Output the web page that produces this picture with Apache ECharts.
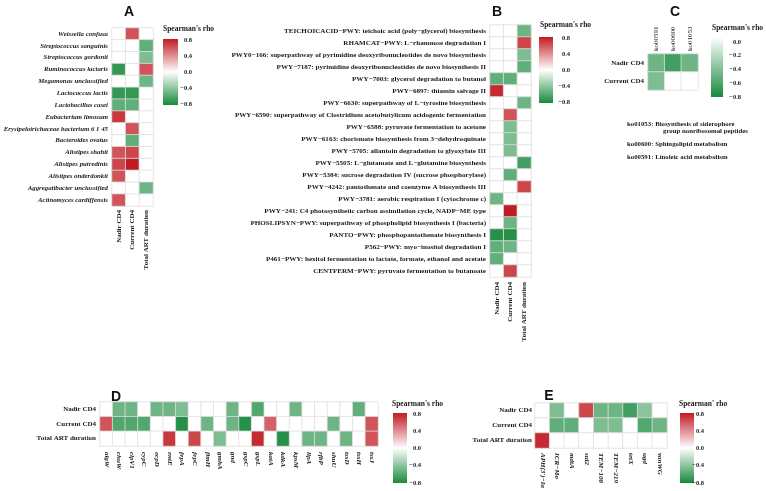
<!DOCTYPE html>
<html>
<head>
<meta charset="utf-8">
<script src="https://cdn.jsdelivr.net/npm/echarts@6/dist/echarts.min.js"></script>
<style>
  html, body { margin: 0; background: #fff; }
  #chart { width: 766px; height: 491px; }
</style>
</head>
<body>
<div id="chart"></div>
<script>
const serif = 'Liberation Serif';
const clinical = ['Nadir CD4', 'Current CD4', 'Total ART duration'];

// A: taxa
const aTaxa = ['Weissella confusa', 'Streptococcus sanguinis', 'Streptococcus gordonii', 'Ruminococcus lactaris',
  'Megamonas unclassified', 'Lactococcus lactis', 'Lactobacillus casei', 'Eubacterium limosum',
  'Erysipelotrichaceae bacterium 6 1 45', 'Bacteroides ovatus', 'Alistipes shahii', 'Alistipes putredinis',
  'Alistipes onderdonkii', 'Aggregatibacter unclassified', 'Actinomyces cardiffensis'];
const aNadir   = [0, 0, 0, -0.7, 0, -0.7, -0.55, 0.7, 0, 0, 0.6, 0.65, 0.6, 0, 0.6];
const aCurrent = [0.6, 0, 0, 0, 0, -0.7, -0.55, 0, 0.6, -0.55, 0.65, 0.8, 0, 0, 0];
const aTotal   = [0, -0.55, -0.45, 0.6, -0.5, 0, 0, 0, 0, 0, 0, 0, 0, -0.5, 0];

// B: pathways
const bPathways = [
  'TEICHOICACID−PWY: teichoic acid (poly−glycerol) biosynthesis',
  'RHAMCAT−PWY: L−rhamnose degradation I',
  'PWY0−166: superpathway of pyrimidine deoxyribonucleotides de novo biosynthesis',
  'PWY−7187: pyrimidine deoxyribonucleotides de novo biosynthesis II',
  'PWY−7003: glycerol degradation to butanol',
  'PWY−6897: thiamin salvage II',
  'PWY−6630: superpathway of L−tyrosine biosynthesis',
  'PWY−6590: superpathway of Clostridium acetobutylicum acidogenic fermentation',
  'PWY−6588: pyruvate fermentation to acetone',
  'PWY−6163: chorismate biosynthesis from 3−dehydroquinate',
  'PWY−5705: allantoin degradation to glyoxylate III',
  'PWY−5505: L−glutamate and L−glutamine biosynthesis',
  'PWY−5384: sucrose degradation IV (sucrose phosphorylase)',
  'PWY−4242: pantothenate and coenzyme A biosynthesis III',
  'PWY−3781: aerobic respiration I (cytochrome c)',
  'PWY−241: C4 photosynthetic carbon assimilation cycle, NADP−ME type',
  'PHOSLIPSYN−PWY: superpathway of phospholipid biosynthesis I (bacteria)',
  'PANTO−PWY: phosphopantothenate biosynthesis I',
  'P562−PWY: myo−inositol degradation I',
  'P461−PWY: hexitol fermentation to lactate, formate, ethanol and acetate',
  'CENTFERM−PWY: pyruvate fermentation to butanoate'];
const bNadir   = [0, 0, 0, 0, -0.55, 0.75, 0, 0, 0, 0, 0, 0, 0, 0, -0.5, 0, 0, -0.75, -0.55, -0.55, 0];
const bCurrent = [0, 0, 0, 0, -0.55, 0, 0, 0.6, -0.45, -0.45, -0.45, 0, -0.55, 0, 0, 0.8, -0.5, -0.75, -0.5, 0, 0.65];
const bTotal   = [-0.5, 0.65, -0.45, -0.55, 0, 0, -0.5, 0, 0, 0, 0, -0.65, 0, 0.65, 0, 0, 0, 0, 0, 0, 0];

// C: KEGG orthologs
const cKos = ['ko00591', 'ko00600', 'ko01053'];
const cRows = ['Nadir CD4', 'Current CD4'];
const cNadir   = [-0.5, -0.65, -0.5];
const cCurrent = [-0.45, 0, 0];
const cNotes = ['ko01053: Biosynthesis of siderophore', 'group nonribosomal peptides',
  'ko00600: Sphingolipid metabolism', 'ko00591: Linoleic acid metabolism'];

// D: virulence genes
const dGenes = ['algW', 'chuW', 'clpV1', 'cypC', 'ecpD', 'entE', 'fepA', 'fepC', 'fimH', 'gmhA', 'gnd',
  'gspC', 'gspL', 'katA', 'kdkA', 'kpsM', 'lipA', 'rfbP', 'shuU', 'tssD', 'tssH', 'tssJ'];
const dNadir   = [0, -0.5, -0.5, 0, -0.5, -0.5, -0.45, 0, 0, 0, -0.5, 0, -0.6, 0, 0, -0.5, 0, 0, 0, 0, -0.55, 0];
const dCurrent = [0.6, -0.6, -0.6, -0.6, 0, 0, -0.75, 0, -0.5, 0, -0.5, -0.75, 0, 0.55, 0, 0, 0, 0, -0.5, 0, 0, 0.6];
const dTotal   = [0, 0, 0, 0, 0, 0.7, 0, 0.65, 0, -0.45, 0, 0, 0.75, 0, -0.75, 0, -0.5, -0.5, 0, -0.5, 0, 0.6];

// E: resistance genes
const eGenes = ["APH(3')−Ia", 'ICR−Mo', 'mdtA', 'sul2', 'TEM−108', 'TEM−219', 'tetX', 'ugd', 'vanWG'];
const eNadir   = [0, -0.45, 0, 0.65, -0.5, -0.5, -0.65, -0.4, 0];
const eCurrent = [0, -0.55, -0.55, 0, -0.45, -0.45, 0, -0.6, -0.5];
const eTotal   = [0.75, 0, 0, 0, 0, 0, 0, 0, 0];

const rhoTicks = ['0.8', '0.4', '0.0', '−0.4', '−0.8'];
const negTicks = ['0.0', '−0.2', '−0.4', '−0.6', '−0.8'];

const red = '#c11b23', green = '#17893c';

function cells(byVar, featOnX) {
  const out = [];
  byVar.forEach((vals, v) => vals.forEach((val, f) => out.push(featOnX ? [f, v, val] : [v, f, val])));
  return out;
}

function axis(grid, data, label, extra) {
  return Object.assign({
    type: 'category', gridIndex: grid, data: data,
    axisLine: { show: false }, axisTick: { show: false }, splitLine: { show: false },
    axisLabel: Object.assign({
      interval: 0, fontFamily: serif, fontWeight: 'bold', fontSize: 7, color: '#1a1a1a', margin: 4
    }, label)
  }, extra || {});
}

function heat(idx, data) {
  return {
    type: 'heatmap', xAxisIndex: idx, yAxisIndex: idx, data: data,
    itemStyle: { borderColor: '#dedede', borderWidth: 0.8 },
    emphasis: { disabled: true }
  };
}

const chart = echarts.init(document.getElementById('chart'), null, { renderer: 'canvas' });

const graphics = [];
function txt(x, y, s, style) {
  graphics.push({ type: 'text', x: x, y: y, silent: true,
    style: Object.assign({ text: s, fontFamily: serif, fontWeight: 'bold', fontSize: 7, fill: '#1a1a1a',
      align: 'left', verticalAlign: 'middle' }, style) });
}
function panelTitle(x, y, s) {
  txt(x, y, s, { fontFamily: 'Liberation Sans', fontSize: 14, align: 'center', fill: '#111' });
}
function colorBar(x, y, w, h, stops, ticks, lx, ly0, ly1, title, tx, ty) {
  graphics.push({ type: 'rect', silent: true, shape: { x: x, y: y, width: w, height: h },
    style: { fill: { type: 'linear', x: 0, y: 0, x2: 0, y2: 1, colorStops: stops } } });
  ticks.forEach((t, i) => txt(lx, ly0 + i * (ly1 - ly0) / (ticks.length - 1), t, { align: 'right', fontSize: 6.5 }));
  txt(tx, ty, title, { fontSize: 7.5 });
}

const div = [{ offset: 0, color: red }, { offset: 0.5, color: '#ffffff' }, { offset: 1, color: green }];
const neg = [{ offset: 0, color: '#ffffff' }, { offset: 1, color: green }];

panelTitle(129, 12, 'A');
panelTitle(497, 12, 'B');
panelTitle(675, 12, 'C');
panelTitle(116, 397, 'D');
panelTitle(549, 396, 'E');

colorBar(163, 39, 15, 66, div, rhoTicks, 192, 40, 104, "Spearman's rho", 163, 29);
colorBar(539, 37, 14, 66, div, rhoTicks, 570, 38, 102, "Spearman's rho", 540, 25);
colorBar(711, 37, 12, 60, neg, negTicks, 741, 42, 97, "Spearman's rho", 712, 28);
colorBar(393, 413, 14, 70, div, rhoTicks, 421, 414, 483, "Spearman's rho", 392, 404);
colorBar(680, 413, 14, 70, div, rhoTicks, 704, 414, 483, "Spearman' rho", 679, 404);

txt(627, 124, cNotes[0], { fontSize: 6.8 });
txt(663, 131, cNotes[1], { fontSize: 6.8 });
txt(627, 144, cNotes[2], { fontSize: 6.8 });
txt(627, 157, cNotes[3], { fontSize: 6.8 });

const option = {
  backgroundColor: '#fff',
  animation: false,
  grid: [
    { left: 112, top: 28, width: 41, height: 178 },
    { left: 490, top: 25, width: 41, height: 252 },
    { left: 648, top: 54, width: 50, height: 36 },
    { left: 100, top: 402, width: 278, height: 44 },
    { left: 535, top: 403, width: 132, height: 45 }
  ],
  xAxis: [
    axis(0, clinical, { rotate: 90, margin: 4 }),
    axis(1, clinical, { rotate: 90, margin: 5 }),
    axis(2, cKos, { rotate: -90, margin: 3, fontWeight: 'normal' }, { position: 'top' }),
    axis(3, dGenes, { rotate: -90, margin: 6, fontStyle: 'italic' }),
    axis(4, eGenes, { rotate: -90, margin: 5, fontStyle: 'italic' })
  ],
  yAxis: [
    axis(0, aTaxa, { fontStyle: 'italic', fontSize: 6.8 }, { inverse: true }),
    axis(1, bPathways, { fontSize: 7.1 }, { inverse: true }),
    axis(2, cRows, {}, { inverse: true }),
    axis(3, clinical, {}, { inverse: true }),
    axis(4, clinical, { margin: 3 }, { inverse: true })
  ],
  visualMap: [
    { type: 'continuous', show: false, seriesIndex: 0, min: -0.8, max: 0.8, inRange: { color: [green, '#ffffff', red] } },
    { type: 'continuous', show: false, seriesIndex: 1, min: -0.8, max: 0.8, inRange: { color: [green, '#ffffff', red] } },
    { type: 'continuous', show: false, seriesIndex: 2, min: -0.8, max: 0, inRange: { color: [green, '#ffffff'] } },
    { type: 'continuous', show: false, seriesIndex: 3, min: -0.8, max: 0.8, inRange: { color: [green, '#ffffff', red] } },
    { type: 'continuous', show: false, seriesIndex: 4, min: -0.8, max: 0.8, inRange: { color: [green, '#ffffff', red] } }
  ],
  series: [
    heat(0, cells([aNadir, aCurrent, aTotal], false)),
    heat(1, cells([bNadir, bCurrent, bTotal], false)),
    heat(2, cells([cNadir, cCurrent], true)),
    heat(3, cells([dNadir, dCurrent, dTotal], true)),
    heat(4, cells([eNadir, eCurrent, eTotal], true))
  ],
  graphic: graphics
};

chart.setOption(option);
</script>
</body>
</html>
